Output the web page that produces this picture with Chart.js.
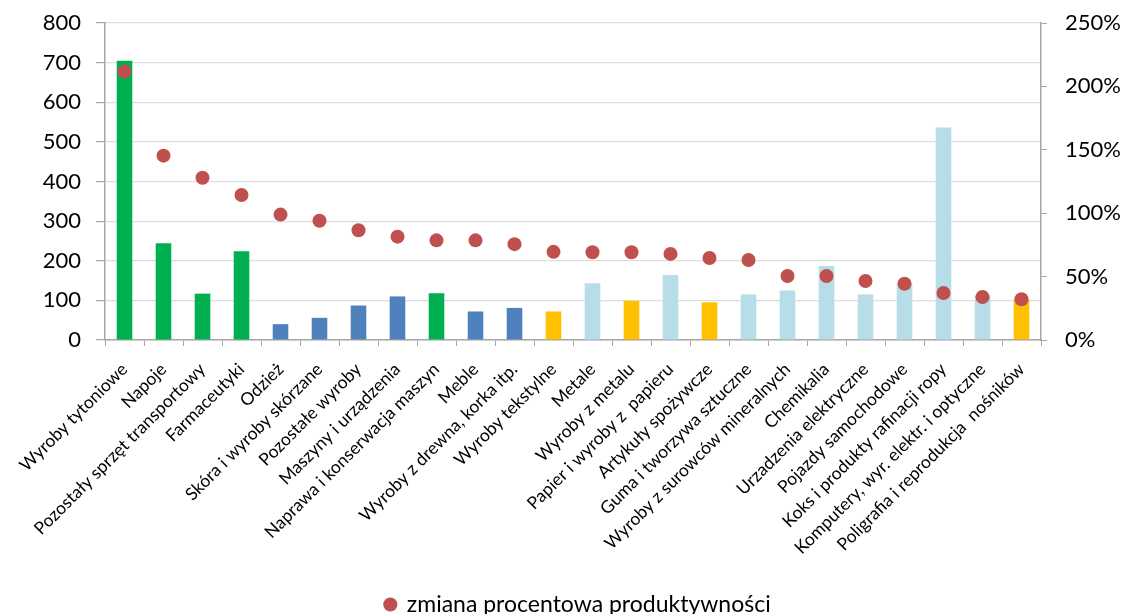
<!DOCTYPE html>
<html>
<head>
<meta charset="utf-8">
<script src="https://cdn.jsdelivr.net/npm/chart.js@4"></script>
<style>
  html, body { margin: 0; padding: 0; background: #fff; }
  #wrap { width: 1126px; height: 614px; position: relative; }
</style>
</head>
<body>
<div id="wrap"><canvas id="chart"></canvas></div>
<script>
// Categories (industries)
const categories = [
    'Wyroby tytoniowe', 'Napoje', 'Pozostały sprzęt transportowy', 'Farmaceutyki',
    'Odzież', 'Skóra i wyroby skórzane', 'Pozostałe wyroby', 'Maszyny i urządzenia',
    'Naprawa i konserwacja maszyn', 'Meble', 'Wyroby z drewna, korka itp.', 'Wyroby tekstylne',
    'Metale', 'Wyroby z metalu', 'Papier i wyroby z  papieru', 'Artykuły spożywcze',
    'Guma i tworzywa sztuczne', 'Wyroby z surowców mineralnych', 'Chemikalia', 'Urzadzenia elektryczne',
    'Pojazdy samochodowe', 'Koks i produkty rafinacji ropy', 'Komputery, wyr. elektr. i optyczne', 'Poligrafia i reprodukcja  nośników'
];

// Bar values (left axis)
const barValues = [705, 244, 117, 224, 40, 56, 87, 110, 118, 72, 81, 72,
                   143, 99, 164, 95, 115, 125, 187, 115, 143, 536, 113, 103];

// Bar colour group per category
const barColors = [
    '#00B050', '#00B050', '#00B050', '#00B050',
    '#4F81BD', '#4F81BD', '#4F81BD', '#4F81BD',
    '#00B050', '#4F81BD', '#4F81BD', '#FFC000',
    '#B7DEE8', '#FFC000', '#B7DEE8', '#FFC000',
    '#B7DEE8', '#B7DEE8', '#B7DEE8', '#B7DEE8',
    '#B7DEE8', '#B7DEE8', '#B7DEE8', '#FFC000'
];

// Percentage change in productivity (right axis, %)
const pctChange = [211.7, 145.4, 128, 114.4, 98.9, 94.1, 86.6, 81.5, 78.6, 78.6, 75.6, 69.5,
                   69.2, 69.2, 67.9, 64.7, 63.1, 50.5, 50.5, 46.5, 44.4, 37.1, 33.9, 32.1];

const leftTicks = { min: 0, max: 800, step: 100 };
const rightTicks = { min: 0, max: 250, step: 50 };

const FONT = 'Lato';

new Chart(document.getElementById('chart'), {
    data: {
        labels: categories,
        datasets: [
            {
                type: 'line',
                label: 'zmiana procentowa produktywności',
                data: pctChange,
                yAxisID: 'y1',
                showLine: false,
                pointRadius: 7,
                pointHoverRadius: 7,
                pointBackgroundColor: '#C0504D',
                pointBorderWidth: 0,
                borderColor: '#C0504D',
                backgroundColor: '#C0504D',
                order: 0
            },
            {
                type: 'bar',
                label: 'wartość',
                data: barValues,
                yAxisID: 'y',
                backgroundColor: barColors,
                barPercentage: 0.8,
                categoryPercentage: 0.5,
                order: 1
            }
        ]
    },
    options: {
        responsive: true,
        maintainAspectRatio: false,
        animation: false,
        // left padding shifts the centred legend to the right like in the original
        layout: { padding: { top: 23, left: 30, right: 0, bottom: -12 } },
        plugins: {
            tooltip: { enabled: false },
            legend: {
                position: 'bottom',
                labels: {
                    filter: item => item.datasetIndex === 0,
                    usePointStyle: true,
                    pointStyle: 'circle',
                    boxWidth: 10,
                    boxHeight: 10,
                    padding: 4,
                    color: '#000',
                    font: { family: FONT, size: 23 }
                }
            }
        },
        scales: {
            x: {
                grid: {
                    offset: true,
                    drawOnChartArea: false,
                    drawTicks: true,
                    tickLength: 6,
                    tickColor: '#A6A6A6'
                },
                border: { color: '#A6A6A6', width: 1.5 },
                ticks: {
                    autoSkip: false,
                    maxRotation: 45,
                    minRotation: 45,
                    padding: 13,
                    color: '#000',
                    font: { family: FONT, size: 17.5 }
                },
                afterFit: s => { s.height = 249; s.paddingLeft = 0; s.paddingRight = 0; }
            },
            y: {
                position: 'left',
                min: leftTicks.min,
                max: leftTicks.max,
                ticks: {
                    stepSize: leftTicks.step,
                    padding: 15,
                    color: '#000',
                    font: { family: FONT, size: 22 }
                },
                grid: {
                    color: '#DDDDDD',
                    lineWidth: 1.2,
                    tickLength: 9,
                    tickColor: '#A6A6A6'
                },
                border: { color: '#A6A6A6', width: 1.5 },
                afterFit: s => { s.width = 75; s.paddingTop = 0; s.paddingBottom = 0; }
            },
            y1: {
                position: 'right',
                min: rightTicks.min,
                max: rightTicks.max,
                ticks: {
                    stepSize: rightTicks.step,
                    padding: 18,
                    color: '#000',
                    font: { family: FONT, size: 22 },
                    callback: v => v + '%'
                },
                grid: {
                    drawOnChartArea: false,
                    tickLength: 6,
                    tickColor: '#A6A6A6'
                },
                border: { color: '#A6A6A6', width: 1.5 },
                afterFit: s => { s.width = 85; s.paddingTop = 0; s.paddingBottom = 0; }
            }
        }
    }
});
</script>
</body>
</html>
